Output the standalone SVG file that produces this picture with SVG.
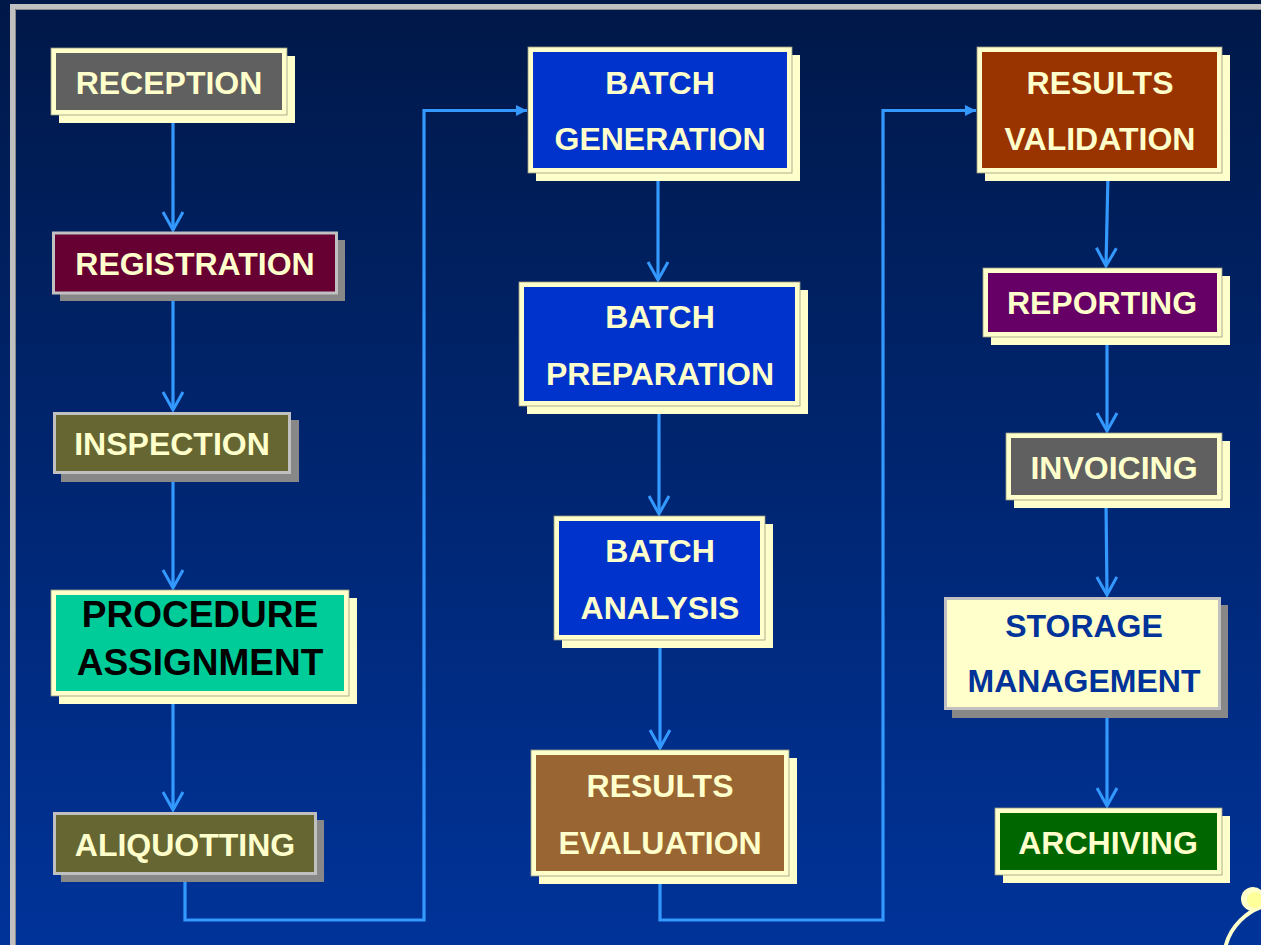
<svg xmlns="http://www.w3.org/2000/svg" width="1261" height="945" viewBox="0 0 1261 945">
<defs>
<linearGradient id="bg" x1="0" y1="0" x2="0" y2="1">
<stop offset="0" stop-color="#001848"/>
<stop offset="1" stop-color="#003399"/>
</linearGradient>
<marker id="open" viewBox="-20 -12 24 24" markerWidth="24" markerHeight="24" refX="0" refY="0" orient="auto" markerUnits="userSpaceOnUse">
<path d="M-18,-10 L0,0 L-18,10" fill="none" stroke="#3399ff" stroke-width="3"/>
</marker>
<marker id="solid" viewBox="-12 -7 14 14" markerWidth="14" markerHeight="14" refX="0" refY="0" orient="auto" markerUnits="userSpaceOnUse">
<path d="M-11,-5.5 L0,0 L-11,5.5 Z" fill="#3399ff"/>
</marker>
<style>
.yb{fill:#ffffcc;stroke:#9a9a80;stroke-width:0.8}
.ys{fill:#ffffcc}
.gs{fill:#888888}
.gb{stroke:#c0c0c0;stroke-width:3}
text{font-family:"Liberation Sans",Arial,sans-serif;font-weight:bold;font-size:32px;text-anchor:middle;fill:#ffffcc}
.conn line,.conn path{stroke:#3399ff;stroke-width:3.2;fill:none}
</style>
</defs>
<rect x="0" y="0" width="1261" height="945" fill="url(#bg)"/>
<path d="M12.5,945 V6.5 H1261" fill="none" stroke="#c0c0c0" stroke-width="5"/>
<path d="M15.5,945 V9.5 H1261" fill="none" stroke="#8a8a8a" stroke-width="1"/>

<g id="connectors" class="conn">
<line x1="173" y1="116" x2="173" y2="230" marker-end="url(#open)"/>
<line x1="173" y1="295" x2="173" y2="410" marker-end="url(#open)"/>
<line x1="173" y1="475" x2="173" y2="588" marker-end="url(#open)"/>
<line x1="173" y1="697" x2="173" y2="810" marker-end="url(#open)"/>
<path d="M185,874 V920 H424 V110.5 H527" marker-end="url(#solid)"/>
<line x1="658" y1="174" x2="658" y2="280" marker-end="url(#open)"/>
<line x1="659" y1="407" x2="659" y2="514" marker-end="url(#open)"/>
<line x1="660" y1="641" x2="660" y2="748" marker-end="url(#open)"/>
<path d="M660,876 V920 H883 V110.5 H976" marker-end="url(#solid)"/>
<line x1="1108" y1="174" x2="1106" y2="266" marker-end="url(#open)"/>
<line x1="1107" y1="338" x2="1107" y2="431" marker-end="url(#open)"/>
<line x1="1106" y1="501" x2="1107" y2="595" marker-end="url(#open)"/>
<line x1="1107" y1="711" x2="1107" y2="806" marker-end="url(#open)"/>
</g>

<g id="reception">
<rect class="ys" x="59" y="56" width="236" height="67"/>
<rect class="yb" x="51" y="48" width="236" height="67"/>
<rect x="56" y="53" width="226" height="57" fill="#606060"/>
<text x="169" y="94">RECEPTION</text>
</g>
<g id="registration">
<rect class="gs" x="60" y="240" width="285" height="61"/>
<rect class="gb" x="53.5" y="233" width="283" height="60" fill="#660033"/>
<text x="195" y="275">REGISTRATION</text>
</g>
<g id="inspection">
<rect class="gs" x="61" y="420" width="238" height="62"/>
<rect class="gb" x="54.5" y="413.5" width="235" height="59" fill="#666633"/>
<text x="172" y="455">INSPECTION</text>
</g>
<g id="procedure-assignment">
<rect class="ys" x="59" y="598" width="298" height="106"/>
<rect class="yb" x="51" y="590" width="298" height="106"/>
<rect x="56" y="595" width="288" height="96" fill="#00cc99"/>
<text x="200" y="627" style="font-size:37px;fill:#000000">PROCEDURE</text>
<text x="200" y="675" style="font-size:37px;fill:#000000">ASSIGNMENT</text>
</g>
<g id="aliquotting">
<rect class="gs" x="61" y="820" width="263" height="62"/>
<rect class="gb" x="54.5" y="813.5" width="261" height="60" fill="#666633"/>
<text x="185" y="856">ALIQUOTTING</text>
</g>

<g id="batch-generation">
<rect class="ys" x="536" y="55" width="264" height="126"/>
<rect class="yb" x="528" y="47" width="264" height="126"/>
<rect x="533" y="52" width="254" height="116" fill="#0033cc"/>
<text x="660" y="94">BATCH</text>
<text x="660" y="150">GENERATION</text>
</g>
<g id="batch-preparation">
<rect class="ys" x="527" y="290" width="281" height="124"/>
<rect class="yb" x="519" y="282" width="281" height="124"/>
<rect x="524" y="287" width="271" height="114" fill="#0033cc"/>
<text x="660" y="328">BATCH</text>
<text x="660" y="385">PREPARATION</text>
</g>
<g id="batch-analysis">
<rect class="ys" x="562" y="524" width="211" height="124"/>
<rect class="yb" x="554" y="516" width="211" height="124"/>
<rect x="559" y="521" width="201" height="114" fill="#0033cc"/>
<text x="660" y="562">BATCH</text>
<text x="660" y="619">ANALYSIS</text>
</g>
<g id="results-evaluation">
<rect class="ys" x="539" y="758" width="258" height="126"/>
<rect class="yb" x="531" y="750" width="258" height="126"/>
<rect x="536" y="755" width="248" height="116" fill="#996633"/>
<text x="660" y="797">RESULTS</text>
<text x="660" y="854">EVALUATION</text>
</g>

<g id="results-validation">
<rect class="ys" x="985" y="55" width="245" height="126"/>
<rect class="yb" x="977" y="47" width="245" height="126"/>
<rect x="982" y="52" width="235" height="116" fill="#993300"/>
<text x="1100" y="94">RESULTS</text>
<text x="1100" y="150">VALIDATION</text>
</g>
<g id="reporting">
<rect class="ys" x="991" y="276" width="239" height="69"/>
<rect class="yb" x="983" y="268" width="239" height="69"/>
<rect x="988" y="273" width="229" height="59" fill="#660066"/>
<text x="1102" y="314">REPORTING</text>
</g>
<g id="invoicing">
<rect class="ys" x="1014" y="441" width="216" height="67"/>
<rect class="yb" x="1006" y="433" width="216" height="67"/>
<rect x="1011" y="438" width="206" height="57" fill="#606060"/>
<text x="1114" y="479">INVOICING</text>
</g>
<g id="storage-management">
<rect class="gs" x="952" y="605" width="276" height="113"/>
<rect class="gb" x="945.5" y="598.5" width="274" height="110" fill="#ffffcc"/>
<text x="1084" y="637" style="fill:#003399">STORAGE</text>
<text x="1084" y="692" style="fill:#003399">MANAGEMENT</text>
</g>
<g id="archiving">
<rect class="ys" x="1003" y="816" width="227" height="67"/>
<rect class="yb" x="995" y="808" width="227" height="67"/>
<rect x="1000" y="813" width="217" height="57" fill="#006600"/>
<text x="1108" y="854">ARCHIVING</text>
</g>

<circle cx="1280" cy="960" r="56" fill="none" stroke="#ffffcc" stroke-width="4"/>
<circle cx="1253" cy="899" r="12" fill="#ffffcc"/>
<circle cx="1255" cy="900" r="8" fill="#ffff99"/>
</svg>
